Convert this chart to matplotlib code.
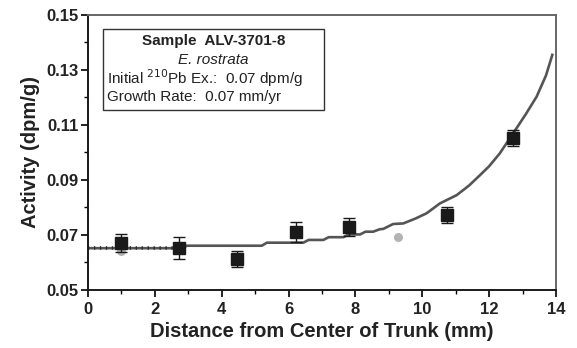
import matplotlib
matplotlib.use("Agg")
import matplotlib.pyplot as plt
from matplotlib.ticker import MultipleLocator, FixedLocator
from matplotlib.patches import Rectangle

plt.rcParams['font.family'] = ['Liberation Sans', 'DejaVu Sans']

# Measured data (black squares with error bars)
dist = [1.0, 2.72, 4.47, 6.22, 7.82, 10.75, 12.7]
activity = [0.0670, 0.0652, 0.0612, 0.0712, 0.0730, 0.0773, 0.1053]
act_err = [0.0033, 0.0040, 0.0030, 0.0037, 0.0033, 0.0030, 0.0030]

# Gray circles
gray_x = [1.0, 9.28]
gray_y = [0.0642, 0.0692]

# Model curve
model_x = [0.0, 2.85, 2.95, 5.2, 5.35, 6.44, 6.6, 7.04, 7.2, 7.64, 7.8, 8.14, 8.3, 8.53,
           8.73, 8.83, 9.13, 9.43, 9.8, 10.13, 10.53, 11.03, 11.4, 11.73, 12.0, 12.32,
           12.72, 13.1, 13.42, 13.7, 13.89]
model_y = [0.0652, 0.0652, 0.0661, 0.0661, 0.0672, 0.0672, 0.0682, 0.0682, 0.0692, 0.0692,
           0.0702, 0.0702, 0.0712, 0.0712, 0.0721, 0.0722, 0.0740, 0.0742, 0.0760, 0.0779,
           0.0815, 0.0845, 0.0880, 0.0918, 0.0950, 0.0997, 0.1070, 0.1140, 0.1203, 0.1280,
           0.1355]

fig = plt.figure(figsize=(5.77, 3.48), dpi=100)
ax = fig.add_axes([0.1525, 0.1667, 0.8111, 0.7902])

ax.plot(model_x, model_y, color='#555555', lw=1.9, zorder=2)
# hatched look on the flat initial segment
ax.plot(model_x[:2], model_y[:2], color='#2a2a2a', lw=2.6, ls=(0, (0.35, 1.3)), zorder=2.5)
ax.plot(gray_x, gray_y, 'o', color='#b3b3b3', ms=6.5, mec='none', zorder=3)
ax.errorbar(dist, activity, yerr=act_err, fmt='s', color='#1a1a1a', ms=8.5,
            ecolor='#1a1a1a', elinewidth=1.0, capsize=4, capthick=1.0, zorder=4)

ax.set_xlim(0, 14)
ax.set_ylim(0.05, 0.15)
ax.xaxis.set_major_locator(MultipleLocator(2))
ax.xaxis.set_minor_locator(MultipleLocator(1))
ax.yaxis.set_major_locator(FixedLocator([0.05, 0.07, 0.09, 0.11, 0.13, 0.15]))
ax.yaxis.set_minor_locator(FixedLocator([0.06, 0.08, 0.10, 0.12, 0.14]))
ax.set_yticklabels(['0.05', '0.07', '0.09', '0.11', '0.13', '0.15'])

ax.tick_params(which='major', direction='out', length=5, width=1.2, labelsize=12, pad=2)
ax.tick_params(axis='x', which='major', pad=4)
ax.tick_params(which='minor', direction='out', length=3, width=1.0)
ax.tick_params(top=False, right=False)
for lab in ax.get_xticklabels() + ax.get_yticklabels():
    lab.set_fontweight('bold')
    lab.set_color('#222222')

for s in ['left', 'bottom']:
    ax.spines[s].set_color('#1a1a1a')
    ax.spines[s].set_linewidth(1.4)
for s in ['top', 'right']:
    ax.spines[s].set_color('#666666')
    ax.spines[s].set_linewidth(1.4)

ax.set_xlabel('Distance from Center of Trunk (mm)', fontsize=14.5, fontweight='bold',
              color='#222222', labelpad=3)
ax.set_ylabel('Activity (dpm/g)', fontsize=14.5, fontweight='bold', color='#222222',
              labelpad=4)

# Annotation box
box = Rectangle((102.7 / 577, 1 - 110 / 348), (324.3 - 102.7) / 577, (110 - 29.3) / 348,
                transform=fig.transFigure, fill=True, facecolor='white',
                edgecolor='#333333', lw=1.0, zorder=5)
fig.patches.append(box)
cx = (102.7 + 324.3) / 2 / 577
fig.text(cx, 1 - 41 / 348, 'Sample  ALV-3701-8', ha='center', va='center',
         fontsize=11, fontweight='bold', color='#222222', zorder=6)
fig.text(cx, 1 - 59.5 / 348, 'E. rostrata', ha='center', va='center',
         fontsize=11, style='italic', color='#222222', zorder=6)
fig.text(107 / 577, 1 - 78 / 348, r'Initial $^{210}$Pb Ex.:  0.07 dpm/g', ha='left',
         va='center', fontsize=11, color='#222222', zorder=6)
fig.text(107 / 577, 1 - 97 / 348, 'Growth Rate:  0.07 mm/yr', ha='left', va='center',
         fontsize=11, color='#222222', zorder=6)

fig.savefig('out.png', dpi=100)
